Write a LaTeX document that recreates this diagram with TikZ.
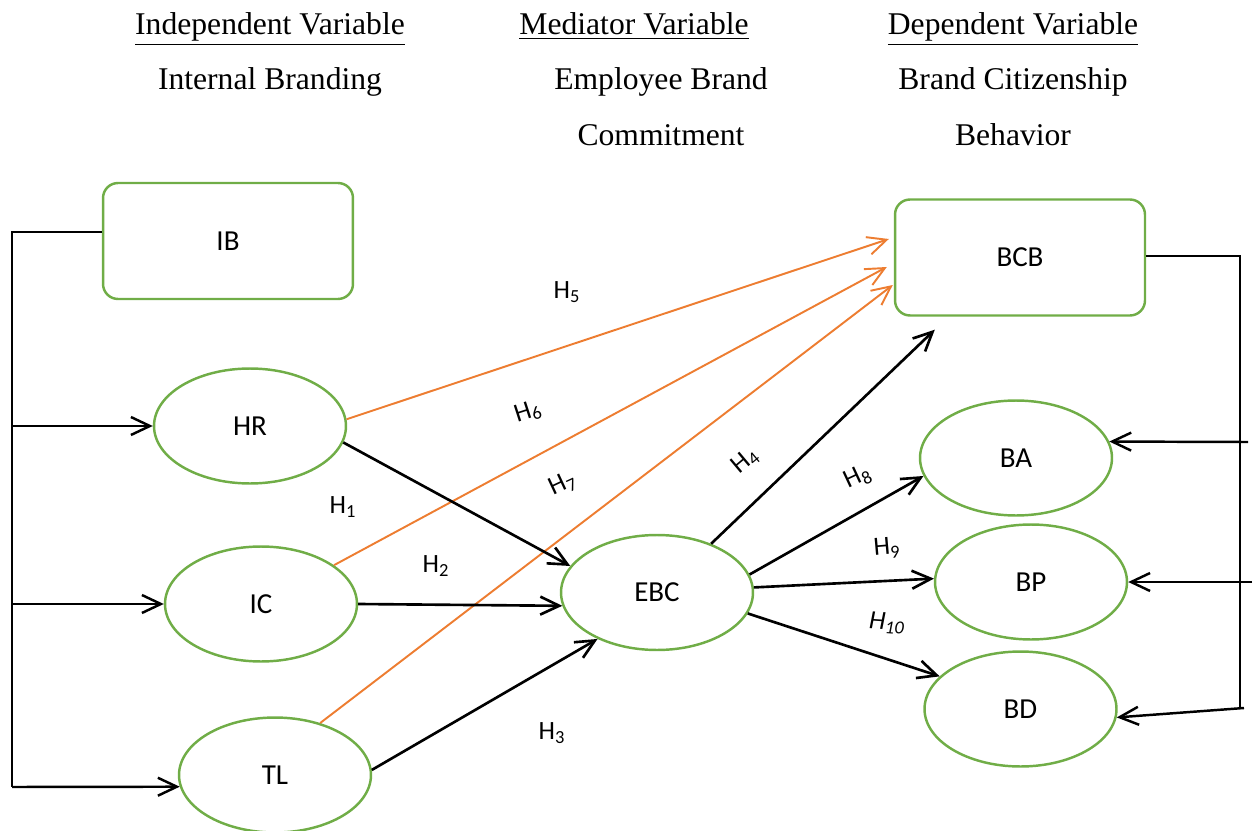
\documentclass[tikz,border=0pt]{standalone}
\usepackage{fontspec}
\setmainfont{Liberation Serif}
\newfontfamily\calibri{Carlito}
\usetikzlibrary{positioning,arrows.meta,shapes.geometric,calc}
\definecolor{vgreen}{RGB}{112,173,71}
\definecolor{vorange}{RGB}{237,125,49}
\tikzset{
  >={Straight Barb[length=3.8mm,width=3.6mm]},
  hdr/.style={font=\fontsize{18}{22}\selectfont, anchor=base, inner sep=0pt},
  shp/.style={draw=vgreen, line width=1.4pt, font=\calibri\fontsize{16.5}{20}\selectfont, inner sep=0pt},
  box/.style={shp, rectangle, rounded corners=3mm, minimum width=5cm, minimum height=2.32cm},
  cons/.style={shp, ellipse, minimum width=3.84cm, minimum height=2.3cm},
  flow/.style={->, line width=1.5pt},
  hyp/.style={->, line width=1.1pt, vorange},
  bus/.style={line width=0.7pt},
  feed/.style={->, line width=1.4pt},
  hlab/.style={font=\calibri\fontsize{15}{18}\selectfont, inner sep=0pt}
}

\begin{document}
\begin{tikzpicture}[x=0.02cm, y=-0.02cm]
\useasboundingbox (0,0) rectangle (1254,831);
% headings
\node[hdr] (ivar) at (270,35) {\underline{Independent Variable}};
\node[hdr] (mvar) at (634,35) {\underline{Mediator Variable}};
\node[hdr] (dvar) at (1013,35) {\underline{Dependent Variable}};
\node[hdr] (ivname) at (270,90) {Internal Branding};
\node[hdr] (mvname) at (661,90) {Employee Brand};
\node[hdr] (mvname2) at (661,146) {Commitment};
\node[hdr] (dvname) at (1013,90) {Brand Citizenship};
\node[hdr] (dvname2) at (1013,146) {Behavior};
% constructs
\node[box] (IB) at (228,241) {IB};
\node[box] (BCB) at (1020,257.5) {BCB};
\node[cons] (HR) at (250,426) {HR};
\node[cons] (IC) at (261,604) {IC};
\node[cons] (TL) at (275,775) {TL};
\node[cons] (EBC) at (657,592.5) {EBC};
\node[cons] (BA) at (1016,458) {BA};
\node[cons] (BP) at (1031,582) {BP};
\node[cons] (BD) at (1020.5,709) {BD};
% left bracket
\coordinate (lbot) at (12,787);
\draw[bus] ($(IB.west)+(0,-9)$) -| (lbot);
\draw[feed] (lbot |- HR.west) -- (HR.west);
\draw[feed] (lbot |- IC.west) -- (IC.west);
\draw[feed] (lbot) -- (TL.187);
% right bracket
\coordinate (rbot) at (1240,708);
\draw[bus] ($(BCB.east)+(0,-1.5)$) -| (rbot);
\coordinate (ra) at (1248,442);
\coordinate (rp) at (1252,582);
\coordinate (rd) at (1244,708);
\draw[feed] (ra) -- (BA.10);
\draw[feed] (rp) -- (BP.east);
\draw[feed] (rd) -- (BD.-5);
% direct paths to BCB
\draw[hyp] (HR.4) -- ($(BCB.west)+(-5,-18.5)$);
\draw[hyp] (IC.28) -- ($(BCB.west)+(-7,9.5)$);
\draw[hyp] (TL.49) -- ($(BCB.west)+(-1,27.5)$);
% paths through EBC
\draw[flow] (HR.-10) -- (EBC.163);
\draw[flow] (IC.east) -- (EBC.188);
\draw[flow] (TL.3) -- (EBC.218);
\draw[flow] (EBC.42) -- ($(BCB.south west)+(41,13)$);
\draw[flow] (EBC.11) -- (BA.191);
\draw[flow] (EBC.3) -- (BP.178);
\draw[flow] (EBC.-13) -- (BD.158);
% hypotheses
\node[hlab] (h5) at (567,292) {H\textsubscript{5}};
\node[hlab, rotate=18] (h6) at (528,412) {H\textsubscript{6}};
\node[hlab] (h1) at (343,507) {H\textsubscript{1}};
\node[hlab, rotate=25] (h7) at (563,484) {H\textsubscript{7}};
\node[hlab] (h2) at (436,566) {H\textsubscript{2}};
\node[hlab] (h3) at (552,733) {H\textsubscript{3}};
\node[hlab, rotate=40] (h4) at (745,461) {H\textsubscript{4}};
\node[hlab, rotate=25] (h8) at (858,477) {H\textsubscript{8}};
\node[hlab, rotate=5] (h9) at (887,548) {H\textsubscript{9}};
\node[hlab, rotate=-4] (h10) at (887,623) {\itshape H\textsubscript{10}};
\end{tikzpicture}
\end{document}
